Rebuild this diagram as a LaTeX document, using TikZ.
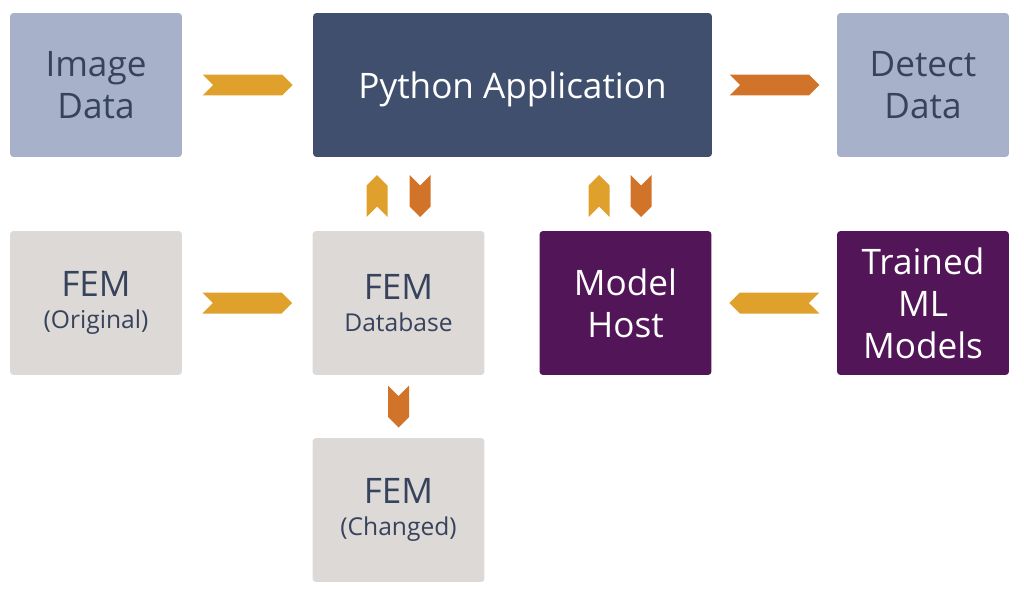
\documentclass[tikz,border=0pt]{standalone}
\usepackage{fontspec}
\setmainfont{Open Sans}
\usepackage{tikz}
\usetikzlibrary{shapes.symbols, positioning, calc}
\definecolor{datablue}{HTML}{A7B1CA}
\definecolor{appblue}{HTML}{404F6E}
\definecolor{femgray}{HTML}{DDD9D6}
\definecolor{mlpurple}{HTML}{521558}
\definecolor{textblue}{HTML}{37425C}
\definecolor{flowyellow}{HTML}{E0A02C}
\definecolor{floworange}{HTML}{D2732A}
\tikzset{
    box/.style={rectangle, rounded corners=2pt, minimum width=3.44cm, minimum height=2.88cm, align=center, inner sep=0pt},
    databox/.style={box, fill=datablue, text=textblue, text depth=0pt, font=\fontsize{20}{24}\selectfont},
    appbox/.style={box, fill=appblue, text=white, minimum width=7.98cm, text depth=0pt, font=\fontsize{20}{24}\selectfont},
    fembox/.style={box, fill=femgray, text=textblue, font=\fontsize{20}{24}\selectfont},
    mlbox/.style={box, fill=mlpurple, text=white, font=\fontsize{20}{24}\selectfont},
    chevron/.style={signal, draw=none, inner sep=0pt, signal pointer angle=90},
    hflow/.style={chevron, minimum width=1.8cm, minimum height=0.42cm},
    vflow/.style={chevron, minimum width=0.42cm, minimum height=0.42cm},
}
\newcommand{\femlabel}[2]{#1\\[-6pt]{\fontsize{14}{17}\selectfont #2}}

\begin{document}
\begin{tikzpicture}[x=0.02cm, y=-0.02cm]
    \useasboundingbox (0,0) rectangle (1024,595);
    % boxes
    \node[databox] (img) at (96,85) {Image\\Data};
    \node[appbox] (app) at (512.5,85) {Python Application};
    \node[databox] (det) at (923,85) {Detect\\Data};
    \node[fembox] (orig) at (96,303) {\femlabel{FEM}{(Original)}};
    \node[fembox] (db) at (398.5,303) {\femlabel{FEM}{Database}};
    \node[mlbox] (host) at (625.5,303) {Model\\Host};
    \node[mlbox] (ml) at (923,303) {Trained\\ML\\Models};
    \node[fembox] (chg) at (398.5,510) {\femlabel{FEM}{(Changed)}};
    % flows
    \node[hflow, fill=flowyellow, signal from=west, signal to=east] (f1) at ($(img.east)!0.5!(app.west)$) {};
    \node[hflow, fill=floworange, signal from=west, signal to=east] (f2) at ($(app.east)!0.5!(det.west)$) {};
    \node[hflow, fill=flowyellow, signal from=west, signal to=east] (f3) at ($(orig.east)!0.5!(db.west)$) {};
    \node[hflow, fill=flowyellow, signal from=east, signal to=west] (f4) at ($(host.east)!0.5!(ml.west)$) {};
    \node[vflow, fill=flowyellow, signal from=south, signal to=north] (f5) at (377,196) {};
    \node[vflow, fill=floworange, signal from=north, signal to=south] (f6) at (420,196) {};
    \node[vflow, fill=flowyellow, signal from=south, signal to=north] (f7) at (599,196) {};
    \node[vflow, fill=floworange, signal from=north, signal to=south] (f8) at (641,196) {};
    \node[vflow, fill=floworange, signal from=north, signal to=south] (f9) at ($(db.south)!0.5!(chg.north)$) {};
\end{tikzpicture}
\end{document}
